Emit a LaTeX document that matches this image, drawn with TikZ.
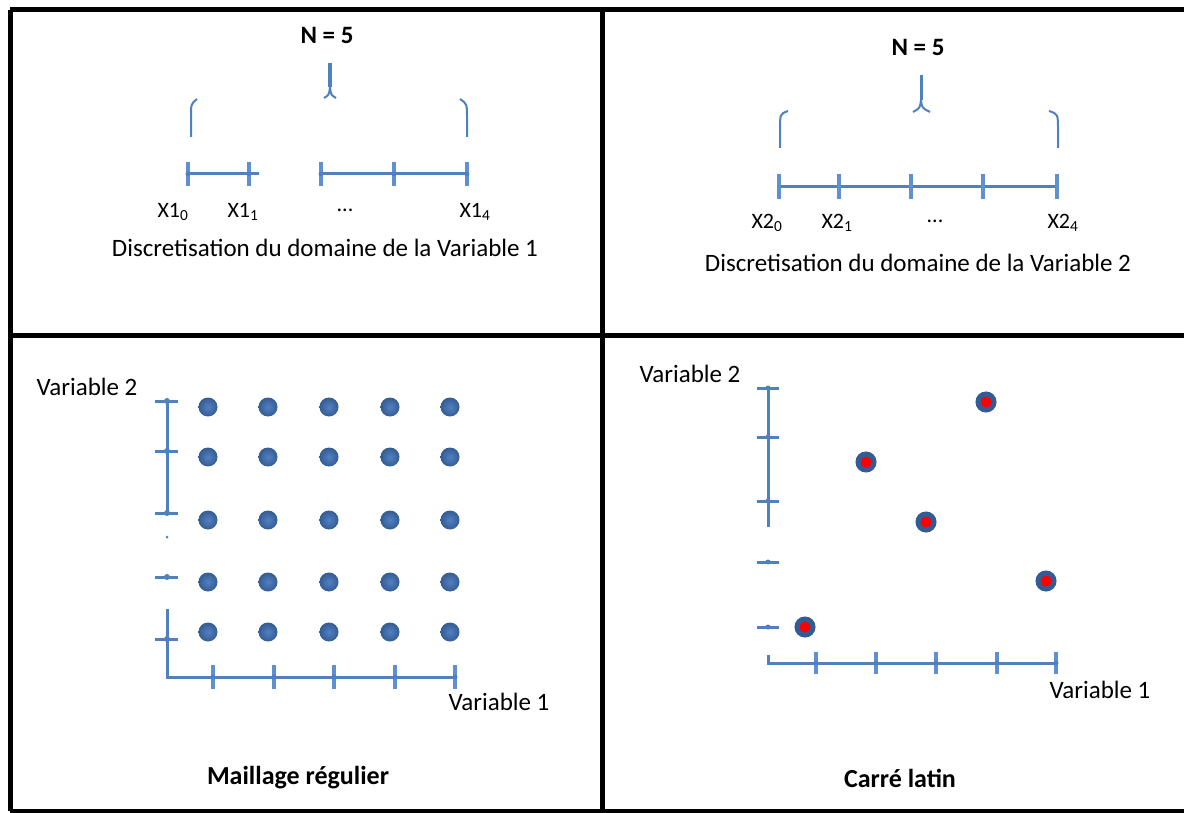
\documentclass[tikz,border=0pt]{standalone}
\usepackage{fontspec}
\setmainfont{Carlito}
\usepackage{tikz}
\usetikzlibrary{calc}

\definecolor{axisblue}{RGB}{79,129,189}
\definecolor{tickblue}{RGB}{95,145,210}
\definecolor{dotblue}{RGB}{52,92,148}
\definecolor{dotlight}{RGB}{82,128,192}

\begin{document}
\begin{tikzpicture}[x=1pt, y=-1pt,
    axis/.style={line width=3pt, color=axisblue},
    tick/.style={line width=3.5pt, color=tickblue},
    brace/.style={line width=2pt, color=axisblue},
    frame/.style={line width=5pt, color=black},
    sublabel/.style={font=\fontsize{22}{24}\selectfont, inner sep=0pt},
    txt/.style={font=\fontsize{25}{28}\selectfont, inner sep=0pt},
    caption/.style={font=\fontsize{26}{30}\selectfont\bfseries, inner sep=0pt},
    gridpt/.style={circle, inner sep=0pt, minimum size=19pt, inner color=dotlight, outer color=dotblue},
    lhspt/.style={circle, inner sep=0pt, minimum size=16pt, fill=red, draw=dotblue, line width=5pt}
]
    \useasboundingbox (0,0) rectangle (1184,813);

    % Frame
    \draw[frame] (10,10) -- (1184,10);
    \draw[frame] (10,335) -- (1184,335);
    \draw[frame] (10,811) -- (1184,811);
    \draw[frame] (10,10) -- (10,811);
    \draw[frame] (602,10) -- (602,811);

    % Discretisation of variable 1
    \foreach \i/\x in {0/188,1/249,2/321,3/394,4/467}{
        \coordinate (A\i) at (\x,174);
    }
    \coordinate (Acut) at (259,174);
    \draw[axis] (A0) -- (Acut);
    \draw[axis] (A2) -- (A4);
    \foreach \i in {0,...,4}{
        \draw[tick] ($(A\i)+(0,-12)$) -- ($(A\i)+(0,12)$);
        \fill[axisblue] (A\i) circle (2.5);
    }

    \node[sublabel] (X10) at (173,212) {X1\textsubscript{0}};
    \node[sublabel] (X11) at (243,212) {X1\textsubscript{1}};
    \node[sublabel] (X1d) at (345,210) {...};
    \node[sublabel] (X14) at (475,212) {X1\textsubscript{4}};

    % Brace, only the pieces that show
    \draw[brace] (191,137) -- (191,117) .. controls (191,104) .. (197,99);
    \draw[brace] (467,137) -- (467,117) .. controls (467,104) .. (460,99);
    \draw[brace, line width=3.5pt] (330,63) -- (330,87);
    \draw[brace] (324,98) .. controls (329,95) .. (330,87) .. controls (331,95) .. (336,98);

    \node[txt, font=\fontsize{25}{28}\selectfont\bfseries] (N1) at (327,35) {N = 5};
    \node[txt] (T1) at (325,248) {Discretisation du domaine de la Variable 1};

    % Discretisation of variable 2
    \foreach \i/\x in {0/779,1/839,2/911,3/983,4/1057}{
        \coordinate (B\i) at (\x,187);
    }
    \draw[axis] (B0) -- (B4);
    \foreach \i in {0,...,4}{
        \draw[tick] ($(B\i)+(0,-13)$) -- ($(B\i)+(0,12)$);
    }

    \node[sublabel] (X20) at (767,223) {X2\textsubscript{0}};
    \node[sublabel] (X21) at (837,223) {X2\textsubscript{1}};
    \node[sublabel] (X2d) at (935,221) {...};
    \node[sublabel] (X24) at (1063,223) {X2\textsubscript{4}};

    \draw[brace] (780,148) -- (780,130) .. controls (780,114) .. (788,111);
    \draw[brace] (1058,148) -- (1058,130) .. controls (1058,114) .. (1049,111);
    \draw[brace, line width=3pt] (921,75) -- (921,100);
    \draw[brace] (913,112) .. controls (920,108) .. (921,100) .. controls (922,108) .. (930,112);

    \node[txt, font=\fontsize{25}{28}\selectfont\bfseries] (N2) at (918,47) {N = 5};
    \node[txt] (T2) at (918,263) {Discretisation du domaine de la Variable 2};

    % Regular grid
    \coordinate (O1) at (167,677);
    \coordinate (Y1top) at (167,401);
    \coordinate (Y1mid) at (167,513);
    \coordinate (Y1low) at (167,609);
    \coordinate (X1end) at (457,677);
    \draw[axis] (Y1top) -- (Y1mid);
    \draw[axis] (Y1low) -- (O1) -- (X1end);
    \fill[axisblue] (167,537) circle (1.5);
    \foreach \y in {401,451,513,577,639}{
        \draw[axis] (155,\y) -- (178,\y);
        \fill[axisblue] (167,\y) circle (3);
    }
    \foreach \x in {213,274,334,395,455}{
        \draw[tick] (\x,665) -- (\x,689);
        \fill[axisblue] (\x,677) circle (2.5);
    }
    \foreach \i/\x in {1/208,2/268,3/329,4/390,5/450}{
        \foreach \j/\y in {1/632,2/582,3/520,4/457,5/407}{
            \node[gridpt] (G\i\j) at (\x,\y) {};
        }
    }
    \node[txt] (V2a) at (87,387) {Variable 2};
    \node[txt] (V1a) at (499,702) {Variable 1};
    \node[caption] (C1) at (298,778) {Maillage régulier};

    % Latin square
    \coordinate (O2) at (768,663);
    \coordinate (Y2top) at (768,388);
    \coordinate (Y2end) at (768,527);
    \coordinate (X2end) at (1057,663);
    \draw[axis] (Y2top) -- (Y2end);
    \draw[axis] (768,655) -- (O2) -- (X2end);
    \foreach \y in {388,437,501,562,627}{
        \draw[axis] (757,\y) -- (779,\y);
        \fill[axisblue] (768,\y) circle (2.5);
    }
    \foreach \x in {816,876,936,997,1056}{
        \draw[tick] (\x,652) -- (\x,674);
        \fill[axisblue] (\x,663) circle (2.5);
    }
    \foreach \i/\x/\y in {1/805/627,2/866/462,3/926/522,4/986/402,5/1046/581}{
        \node[lhspt] (S\i) at (\x,\y) {};
    }
    \node[txt] (V2b) at (690,374) {Variable 2};
    \node[txt] (V1b) at (1100,690) {Variable 1};
    \node[caption] (C2) at (900,778) {Carré latin};
\end{tikzpicture}
\end{document}
